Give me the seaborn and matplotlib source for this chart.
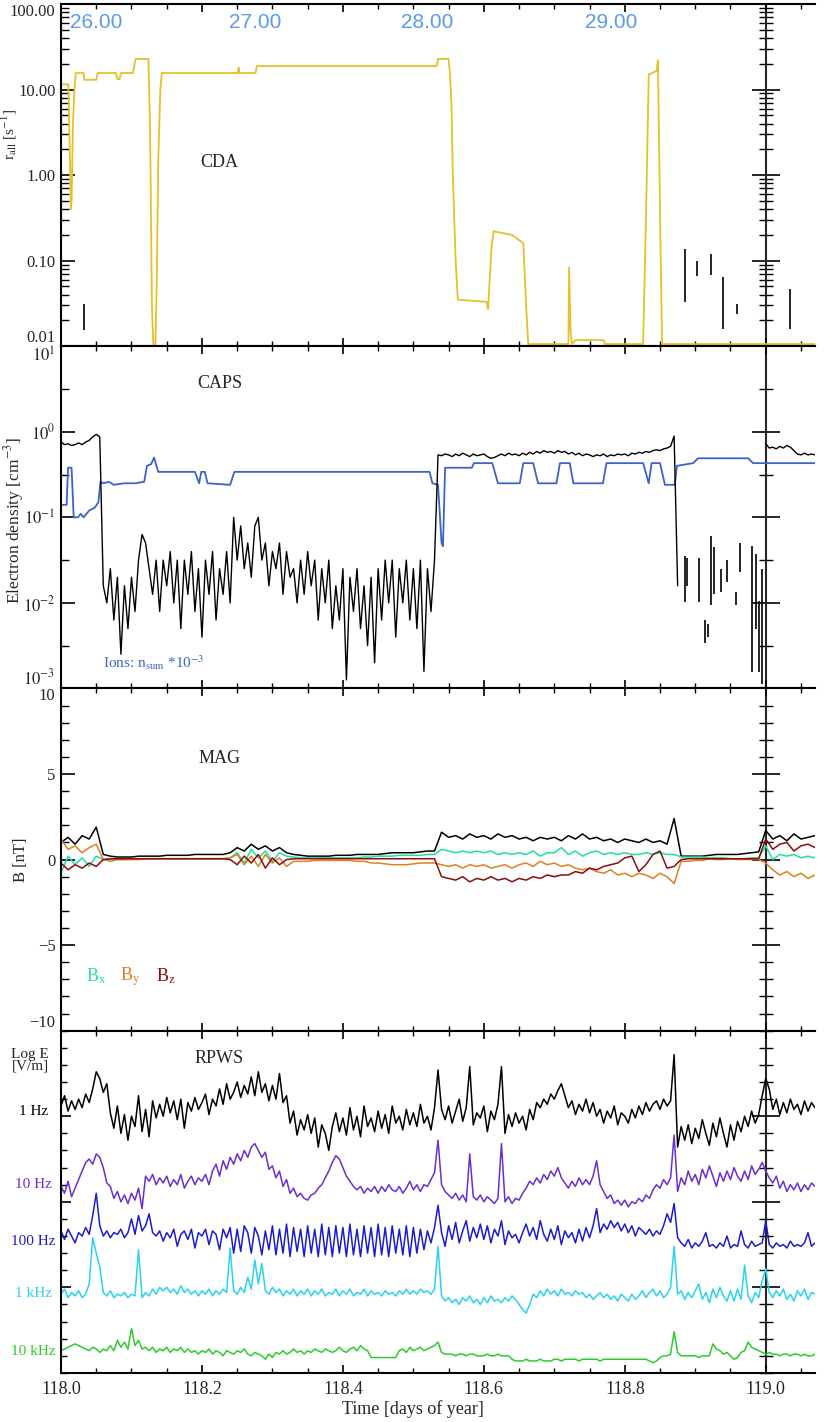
import matplotlib.pyplot as plt
import matplotlib.ticker as mticker
import numpy as np
import pandas as pd
import seaborn as sns

sns.set_style('ticks')
plt.rcParams['font.family'] = ['Liberation Serif', 'DejaVu Serif']
plt.rcParams['mathtext.fontset'] = 'stix'

# ---------------------------------------------------------------- data
T_START, T_END, T_MID = 118.0, 119.07, 119.0

# distance labels along the top of the CDA panel
dist_t = [118.05, 118.275, 118.52, 118.78]
dist_labels = ['26.00', '27.00', '28.00', '29.00']

# CDA total dust impact rate [1/s]
cda_t = [118.000, 118.0104, 118.012, 118.014, 118.015, 118.017, 118.019, 118.021,
         118.032, 118.033, 118.050, 118.052, 118.078, 118.080, 118.083, 118.085,
         118.102, 118.104, 118.106, 118.124, 118.126, 118.127, 118.128, 118.129,
         118.131, 118.134, 118.136, 118.138, 118.141, 118.143, 118.251, 118.252,
         118.253, 118.276, 118.278, 118.533, 118.535, 118.550, 118.552, 118.554,
         118.556, 118.560, 118.563, 118.604, 118.606, 118.611, 118.614, 118.640,
         118.656, 118.660, 118.663, 118.720, 118.721, 118.723, 118.725, 118.730,
         118.770, 118.772, 118.826, 118.830, 118.834, 118.845, 118.847, 118.851,
         118.853, 119.070]
cda_rate = [11.5, 11.5, 3.0, 0.4, 0.5, 4.0, 10.0, 15.6,
            15.6, 13.0, 13.0, 15.6, 15.6, 13.2, 13.2, 15.6,
            15.6, 19.0, 22.8, 22.8, 5.0, 1.3, 0.18, 0.03,
            0.0106, 0.0106, 0.065, 1.5, 10.0, 15.6, 15.6, 18.0,
            15.6, 15.6, 18.8, 18.8, 22.8, 22.8, 15.0, 7.0,
            1.0, 0.1, 0.035, 0.033, 0.027, 0.15, 0.22, 0.2,
            0.16, 0.03, 0.0106, 0.0106, 0.083, 0.015, 0.0106, 0.0118,
            0.0118, 0.0106, 0.0106, 0.3, 15.0, 16.5, 22.0, 0.1,
            0.0106, 0.0106]
# isolated single-detector counts (vertical bars)
cda_bar_t = [118.032, 118.885, 118.903, 118.923, 118.939, 118.959, 119.034]
cda_bar_lo = [0.0153, 0.033, 0.066, 0.068, 0.016, 0.024, 0.016]
cda_bar_hi = [0.031, 0.136, 0.10, 0.12, 0.064, 0.031, 0.047]

# CAPS ion density (already scaled by 1e-3) [cm^-3]
ion_t = [118.000, 118.008, 118.010, 118.015, 118.018, 118.024, 118.028, 118.032,
         118.040, 118.048, 118.053, 118.056, 118.060, 118.068, 118.075, 118.090,
         118.105, 118.118, 118.122, 118.128, 118.132, 118.138, 118.190, 118.196,
         118.199, 118.204, 118.208, 118.240, 118.246, 118.523, 118.527, 118.535,
         118.540, 118.542, 118.545, 118.583, 118.586, 118.612, 118.620, 118.651,
         118.656, 118.670, 118.677, 118.703, 118.708, 118.722, 118.727, 118.769,
         118.774, 118.826, 118.834, 118.838, 118.850, 118.857, 118.871, 118.874,
         118.897, 118.904, 118.975, 118.982, 118.996, 119.070]
ion_n = [0.14, 0.14, 0.38, 0.38, 0.10, 0.10, 0.11, 0.10,
         0.12, 0.13, 0.15, 0.26, 0.25, 0.26, 0.24, 0.25,
         0.25, 0.26, 0.40, 0.42, 0.50, 0.34, 0.34, 0.25,
         0.34, 0.34, 0.25, 0.24, 0.34, 0.34, 0.25, 0.24,
         0.05, 0.046, 0.38, 0.38, 0.43, 0.43, 0.25, 0.25,
         0.43, 0.43, 0.25, 0.25, 0.43, 0.43, 0.25, 0.25,
         0.43, 0.43, 0.25, 0.43, 0.43, 0.24, 0.24, 0.40,
         0.43, 0.49, 0.49, 0.43, 0.43, 0.43]

# CAPS electron density, log10 [cm^-3], 0.005 day samples from 118.000
ne_log10 = [
    -0.12, -0.15, -0.14, -0.16, -0.15, -0.13, -0.15, -0.12, -0.10, -0.06,  # 118.00
    -0.03, -0.06, -1.8, -2.0, -1.6, -2.2, -1.7, -2.6, -1.8, -2.3,          # 118.05
    -1.7, -2.1, -1.5, -1.2, -1.3, -1.6, -1.9, -1.5, -2.1, -1.5,            # 118.10
    -1.8, -1.4, -2.0, -1.5, -2.3, -1.5, -1.9, -1.4, -2.1, -1.6,            # 118.15
    -2.4, -1.5, -1.9, -1.4, -2.2, -1.6, -1.9, -1.4, -2.0, -1.0,            # 118.20
    -1.5, -1.1, -1.6, -1.3, -1.7, -1.1, -1.0, -1.5, -1.3, -1.8,            # 118.25
    -1.4, -1.6, -1.3, -1.9, -1.4, -1.7, -1.6, -2.0, -1.5, -1.9,            # 118.30
    -1.4, -1.8, -1.5, -2.2, -1.6, -2.0, -1.5, -2.3, -1.8, -2.2,            # 118.35
    -1.6, -2.9, -1.7, -2.1, -1.6, -2.3, -1.8, -2.5, -1.7, -2.7,            # 118.40
    -1.6, -2.2, -1.5, -2.0, -1.5, -2.4, -1.6, -2.0, -1.5, -2.2,            # 118.45
    -1.6, -2.3, -1.5, -2.8, -1.6, -2.1, -1.5, -0.27, -0.28, -0.26,         # 118.50
    -0.27, -0.29, -0.26, -0.28, -0.25, -0.27, -0.29, -0.26, -0.28, -0.27,  # 118.55
    -0.26, -0.29, -0.31, -0.30, -0.28, -0.26, -0.28, -0.25, -0.27, -0.26,  # 118.60
    -0.28, -0.25, -0.27, -0.24, -0.26, -0.23, -0.25, -0.22, -0.24, -0.23,  # 118.65
    -0.25, -0.22, -0.24, -0.23, -0.26, -0.24, -0.27, -0.25, -0.28, -0.26,  # 118.70
    -0.27, -0.29, -0.27, -0.28, -0.26, -0.29, -0.27, -0.28, -0.26, -0.27,  # 118.75
    -0.26, -0.28, -0.25, -0.26, -0.24, -0.25, -0.23, -0.24, -0.22, -0.21,  # 118.80
    -0.22, -0.20, -0.19, -0.17, -0.05, -1.8,                               # 118.85
]
# after the data gap, 0.005 day samples from 119.000
ne_tail_log10 = [-0.14, -0.19, -0.18, -0.20, -0.17, -0.19, -0.16, -0.18,
                 -0.22, -0.26, -0.27, -0.25, -0.27, -0.26, -0.27]
# sparse electron points in the gap (log10 ranges)
ne_bar_t = [118.885, 118.888, 118.906, 118.914, 118.918, 118.923, 118.927, 118.936,
            118.945, 118.958, 118.964, 118.981, 118.986, 118.991, 118.995]
ne_bar_lo = [-1.99, -1.80, -1.99, -2.47, -2.40, -2.03, -1.90, -1.87,
             -1.75, -2.03, -1.64, -2.81, -2.30, -2.81, -2.95]
ne_bar_hi = [-1.45, -1.47, -1.48, -2.20, -2.25, -1.22, -1.35, -1.60,
             -1.50, -1.87, -1.30, -1.34, -1.43, -1.98, -1.60]

# MAG field components [nT], 0.01 day samples from 118.00
mag_b = [
    1.0, 1.3, 0.9, 1.4, 1.2, 1.9, 0.3, 0.2, 0.15, 0.15,
    0.15, 0.2, 0.2, 0.2, 0.2, 0.25, 0.25, 0.25, 0.25, 0.3,
    0.3, 0.3, 0.3, 0.3, 0.4, 0.7, 0.5, 0.9, 0.6, 0.8,
    0.5, 0.7, 0.4, 0.3, 0.25, 0.2, 0.2, 0.2, 0.2, 0.25,
    0.25, 0.25, 0.3, 0.3, 0.3, 0.3, 0.35, 0.4, 0.4, 0.4,
    0.4, 0.45, 0.5, 0.5, 1.6, 1.3, 1.4, 1.2, 1.5, 1.3,
    1.4, 1.2, 1.5, 1.3, 1.4, 1.2, 1.3, 1.1, 1.3, 1.2,
    1.3, 1.1, 1.4, 1.2, 1.5, 1.2, 1.3, 1.1, 1.2, 1.0,
    1.2, 1.1, 1.0, 1.2, 1.0, 1.1, 0.9, 2.4, 0.2, 0.2,
    0.2, 0.2, 0.25, 0.3, 0.3, 0.3, 0.3, 0.35, 0.4, 0.45,
    1.7, 1.2, 1.4, 1.1, 1.5, 1.2, 1.3, 1.4,
]
mag_bx = [
    -0.8, 0.2, -0.3, 0.1, -0.4, 0.2, 0.0, 0.0, 0.0, 0.0,
    0.05, 0.05, 0.05, 0.05, 0.05, 0.05, 0.05, 0.05, 0.05, 0.05,
    0.05, 0.05, 0.05, 0.05, 0.1, 0.4, -0.2, 0.6, 0.1, 0.5,
    -0.1, 0.4, 0.2, 0.15, 0.1, 0.1, 0.1, 0.1, 0.1, 0.1,
    0.1, 0.1, 0.1, 0.15, 0.15, 0.2, 0.2, 0.2, 0.25, 0.25,
    0.25, 0.25, 0.3, 0.3, 0.6, 0.5, 0.4, 0.5, 0.4, 0.5,
    0.4, 0.5, 0.3, 0.4, 0.3, 0.4, 0.3, 0.5, 0.2, 0.4,
    0.4, 0.7, 0.3, 0.5, 0.2, 0.4, 0.5, 0.3, 0.4, 0.3,
    0.4, 0.3, 0.3, 0.4, 0.3, 0.4, 0.3, 0.3, 0.15, 0.15,
    0.15, 0.15, 0.1, 0.1, 0.1, 0.05, 0.05, 0.05, 0.1, 0.1,
    0.8, 0.0, 0.3, 0.2, 0.3, 0.1, 0.2, 0.1,
]
mag_by = [
    1.2, 0.6, 0.8, 0.4, 0.7, 0.9, 0.0, -0.1, 0.0, 0.0,
    0.0, 0.0, 0.05, 0.05, 0.05, 0.05, 0.05, 0.05, 0.05, 0.05,
    0.05, 0.05, 0.05, 0.05, 0.1, 0.3, -0.3, 0.2, -0.4, 0.3,
    -0.2, 0.1, -0.4, -0.1, -0.1, -0.1, -0.05, -0.05, -0.05, -0.05,
    -0.05, -0.05, -0.1, -0.1, -0.2, -0.2, -0.25, -0.3, -0.3, -0.3,
    -0.25, -0.2, -0.2, -0.2, -0.3, -0.4, -0.3, -0.5, -0.3, -0.4,
    -0.3, -0.5, -0.4, -0.3, -0.5, -0.3, -0.2, -0.4, -0.1, -0.3,
    -0.2, -0.4, -0.3, -0.5, -0.6, -0.5, -0.7, -0.8, -0.6, -0.9,
    -0.8, -1.0, -0.8, -0.9, -1.1, -0.8, -1.0, -1.4, -0.1, -0.1,
    -0.05, -0.05, 0.05, 0.0, 0.0, 0.05, 0.0, 0.0, 0.0, 0.0,
    -0.2, -0.6, -0.9, -0.7, -1.0, -0.8, -1.1, -0.9,
]
mag_bz = [
    -0.2, -0.6, -0.3, -0.5, -0.2, -0.4, 0.0, 0.05, 0.05, 0.05,
    0.05, 0.05, 0.05, 0.05, 0.05, 0.05, 0.05, 0.05, 0.05, 0.05,
    0.05, 0.05, 0.05, 0.05, 0.0, -0.3, 0.2, -0.2, 0.3, -0.5,
    0.1, -0.3, 0.0, 0.05, 0.05, 0.05, 0.05, 0.05, 0.05, 0.05,
    0.05, 0.05, 0.05, 0.05, 0.05, 0.05, 0.05, 0.05, 0.05, 0.05,
    0.05, 0.05, 0.05, 0.05, -1.0, -1.1, -1.2, -1.0, -1.3, -1.1,
    -1.2, -1.0, -1.2, -1.1, -1.3, -1.1, -1.2, -1.0, -1.1, -0.9,
    -1.0, -0.9, -0.9, -0.7, -0.8, -0.5, -0.6, -0.4, -0.3, -0.2,
    0.1, 0.2, -0.7, -0.3, 0.3, 0.5, -0.5, -0.4, 0.0, 0.05,
    0.05, 0.05, 0.05, 0.05, 0.05, 0.05, 0.05, 0.05, 0.05, 0.05,
    1.2, 0.6, 0.9, 1.0, 0.5, 0.8, 0.9, 0.7,
]

# RPWS log E, stacked (panel units), 0.005 day samples from 118.000
rpws_1hz = [
    15.6, 16.2, 15.3, 15.9, 15.4, 16.0, 15.5, 16.3, 15.8, 16.6,
    17.6, 17.2, 16.4, 16.9, 15.2, 14.3, 15.6, 14.0, 15.1, 13.6,
    15.0, 14.4, 16.2, 14.1, 15.4, 13.8, 15.9, 14.9, 15.7, 15.0,
    16.1, 15.2, 15.9, 14.8, 16.0, 14.3, 15.8, 15.3, 16.1, 15.4,
    15.8, 16.3, 15.1, 16.0, 15.6, 16.6, 15.7, 16.9, 16.0, 16.4,
    17.0, 16.1, 16.8, 16.3, 17.3, 16.2, 17.6, 16.4, 16.9, 15.9,
    16.8, 16.0, 17.5, 15.8, 16.2, 14.6, 15.3, 13.9, 14.8, 14.2,
    15.1, 14.0, 14.9, 13.2, 14.5, 14.0, 13.0, 14.4, 15.2, 14.1,
    14.9, 13.9, 15.5, 14.2, 15.0, 13.8, 15.6, 14.4, 14.9, 14.1,
    15.3, 14.3, 15.1, 14.0, 15.6, 14.6, 15.0, 14.2, 15.4, 14.5,
    15.2, 14.4, 15.7, 14.6, 15.0, 14.2, 15.5, 17.7, 15.4, 14.8,
    15.6, 14.6, 15.3, 16.0, 14.7, 15.5, 17.9, 14.5, 15.2, 14.9,
    15.6, 14.1, 15.3, 14.8, 15.7, 17.9, 14.0, 15.1, 14.4, 15.2,
    14.6, 15.0, 14.2, 15.4, 14.8, 15.8, 15.5, 16.0, 15.7, 16.3,
    16.0, 16.5, 16.9, 16.2, 15.5, 15.9, 15.1, 15.7, 15.3, 16.0,
    15.2, 15.8, 15.0, 15.4, 14.6, 15.3, 14.9, 15.6, 14.5, 15.2,
    15.0, 14.6, 15.4, 14.9, 15.6, 15.1, 15.8, 15.3, 15.7, 15.9,
    15.4, 16.0, 15.6, 15.9, 18.6, 13.2, 14.4, 13.6, 14.5, 13.4,
    14.3, 13.7, 14.8, 14.0, 13.3, 14.6, 13.8, 14.9, 14.0, 13.2,
    14.5, 13.6, 14.7, 14.1, 15.0, 14.4, 15.3, 14.6, 15.1, 16.2,
    17.2, 16.6, 15.4, 16.0, 15.1, 15.8, 15.2, 16.0, 15.4, 15.7,
    15.1, 15.9, 15.3, 15.8, 15.5,
]
rpws_10hz = [
    10.9, 10.5, 11.2, 10.3, 10.8, 11.3, 11.8, 12.3, 12.5, 12.2,
    12.8, 12.6, 12.0, 11.1, 10.9, 10.2, 10.6, 10.0, 10.4, 9.9,
    10.5, 10.1, 10.8, 9.6, 11.5, 11.2, 11.6, 11.0, 11.4, 11.1,
    11.5, 10.9, 11.3, 11.0, 11.6, 10.8, 11.2, 11.5, 11.0, 11.4,
    11.2, 11.6, 11.0, 11.8, 12.2, 11.5, 12.4, 11.9, 12.6, 12.2,
    12.8, 12.4, 13.0, 12.6, 13.2, 13.4, 13.0, 12.6, 12.9, 11.9,
    12.1, 11.4, 11.8, 10.9, 11.3, 10.5, 10.8, 10.3, 10.5, 10.2,
    10.1, 10.4, 10.5, 10.8, 11.0, 11.4, 11.8, 12.3, 12.7, 12.5,
    12.0, 11.5, 11.2, 10.9, 10.7, 10.9, 10.5, 10.8, 10.6, 10.9,
    10.5, 10.9, 10.6, 11.0, 10.7, 10.6, 10.9, 10.5, 10.8, 11.2,
    10.7, 11.0, 10.6, 11.0, 10.9, 11.3, 11.7, 13.6, 11.0, 10.6,
    10.4, 10.2, 10.5, 10.1, 10.4, 10.0, 12.8, 10.3, 10.1, 10.4,
    10.0, 10.3, 10.1, 9.9, 10.2, 13.4, 10.0, 10.3, 9.9, 10.2,
    10.1, 10.5, 10.8, 11.2, 11.0, 11.4, 11.1, 11.6, 11.3, 11.8,
    11.5, 12.0, 11.4, 11.1, 10.8, 11.2, 10.9, 11.4, 11.0, 11.3,
    11.0, 11.5, 12.4, 11.0, 10.6, 10.2, 10.4, 9.9, 10.1, 9.8,
    10.1, 9.7, 10.0, 9.9, 10.2, 10.0, 10.4, 10.2, 10.7, 11.0,
    10.8, 11.3, 11.0, 11.4, 13.9, 10.6, 11.4, 11.0, 11.8, 11.2,
    11.6, 11.0, 11.9, 11.4, 12.1, 11.5, 10.9, 11.7, 11.2, 11.8,
    11.3, 12.0, 11.5, 11.2, 11.8, 11.3, 12.1, 11.6, 11.9, 12.3,
    11.8, 11.4, 11.1, 11.5, 10.8, 11.2, 10.6, 11.0, 10.7, 11.1,
    10.6, 11.0, 10.7, 11.1, 10.9,
]
rpws_100hz = [
    8.3, 7.8, 8.4, 8.0, 7.6, 8.2, 8.0, 8.5, 8.1, 9.2,
    10.5, 8.6, 8.0, 8.3, 7.9, 8.2, 8.1, 8.4, 7.9, 8.2,
    9.0, 8.1, 9.2, 8.3, 8.6, 9.3, 8.2, 8.0, 8.3, 7.7,
    8.2, 7.9, 8.4, 7.4, 8.1, 8.3, 7.8, 8.4, 7.3, 8.2,
    8.0, 8.4, 7.5, 8.3, 8.1, 7.2, 8.4, 7.9, 8.5, 7.0,
    8.4, 7.1, 8.6, 8.2, 7.0, 8.5, 8.0, 6.9, 8.3, 7.2,
    8.6, 6.9, 8.4, 7.0, 8.7, 6.8, 8.5, 7.1, 8.4, 6.8,
    8.6, 7.0, 8.4, 6.8, 8.7, 6.9, 8.5, 6.8, 8.6, 7.0,
    8.5, 6.8, 8.7, 6.9, 8.4, 6.8, 8.6, 7.0, 8.5, 6.8,
    8.7, 6.9, 8.5, 6.8, 8.6, 7.0, 8.4, 6.9, 8.6, 6.8,
    8.5, 7.0, 8.4, 7.2, 8.3, 7.6, 8.5, 9.8, 8.2, 7.4,
    8.6, 7.8, 8.8, 7.6, 8.3, 8.9, 7.7, 8.5, 7.9, 8.7,
    7.8, 8.6, 7.6, 8.4, 8.0, 8.9, 7.5, 8.3, 7.9, 8.1,
    7.6, 8.2, 8.7, 8.0, 8.5, 7.8, 8.9, 8.1, 7.7, 8.4,
    7.8, 8.6, 7.5, 8.3, 7.9, 8.2, 7.6, 8.4, 7.7, 8.5,
    7.9, 8.6, 9.6, 8.2, 8.7, 8.4, 8.9, 8.5, 8.8, 8.3,
    8.7, 8.2, 8.6, 8.0, 8.5, 8.3, 8.1, 8.4, 8.0, 8.3,
    8.1, 8.6, 9.3, 8.8, 9.9, 7.9, 7.6, 7.4, 7.8, 7.3,
    7.6, 7.4, 7.7, 8.2, 7.4, 7.5, 7.3, 7.6, 7.4, 8.0,
    7.3, 7.5, 7.4, 8.3, 7.5, 7.3, 7.7, 7.4, 7.5, 7.6,
    8.9, 7.5, 7.3, 7.6, 7.4, 7.5, 7.3, 7.7, 7.4, 7.5,
    7.4, 7.6, 8.2, 7.4, 7.6,
]
rpws_1khz = [
    4.6, 4.9, 4.4, 4.7, 4.5, 4.8, 4.4, 4.6, 5.2, 7.9,
    7.0, 6.2, 4.7, 4.5, 4.8, 4.4, 4.6, 4.5, 4.7, 4.4,
    4.6, 4.5, 7.2, 4.4, 4.7, 4.5, 4.9, 4.6, 5.0, 4.8,
    5.0, 4.7, 4.9, 4.6, 5.1, 4.7, 4.9, 4.6, 4.8, 4.5,
    4.8, 4.6, 4.9, 4.5, 4.8, 4.6, 4.9, 4.7, 7.3, 4.8,
    4.6, 5.0, 4.7, 5.6, 4.9, 6.6, 5.2, 6.4, 4.8, 4.6,
    5.0, 4.7, 4.9, 4.5, 4.8, 4.6, 4.9, 4.5, 4.8, 4.6,
    4.9, 4.5, 4.8, 4.6, 4.9, 4.5, 4.7, 4.6, 4.9, 4.5,
    4.8, 4.6, 4.9, 4.5, 4.7, 4.6, 4.9, 4.5, 4.8, 4.6,
    4.7, 4.5, 4.8, 4.6, 4.7, 4.5, 4.8, 4.6, 4.9, 4.6,
    4.8, 4.6, 4.9, 4.7, 4.8, 4.6, 4.9, 7.4, 4.5, 4.2,
    4.4, 4.1, 4.3, 4.0, 4.4, 4.2, 4.5, 4.1, 4.3, 4.0,
    4.4, 4.1, 4.5, 4.2, 4.3, 4.1, 4.4, 4.2, 4.5, 4.3,
    4.0, 3.7, 3.5, 4.0, 4.6, 4.4, 4.8, 4.5, 4.9, 4.6,
    4.8, 4.5, 4.9, 4.6, 4.7, 4.5, 4.8, 4.6, 4.7, 4.4,
    4.6, 4.3, 4.5, 4.7, 4.4, 4.6, 4.3, 4.5, 4.2, 4.6,
    4.4, 4.2, 4.6, 4.3, 4.5, 4.8, 4.4, 4.7, 4.9, 4.5,
    4.8, 4.4, 4.6, 5.0, 7.4, 4.6, 4.8, 4.3, 4.7, 4.4,
    4.8, 5.2, 4.3, 4.7, 4.1, 4.9, 4.4, 5.0, 4.5, 4.2,
    4.8, 4.2, 4.9, 4.3, 6.3, 4.5, 4.1, 4.7, 4.4, 5.4,
    6.1, 4.7, 4.4, 4.8, 4.5, 4.9, 4.3, 4.6, 4.2, 4.8,
    4.5, 4.9, 4.3, 4.7, 4.6,
]
rpws_10khz = [
    1.3, 1.4, 1.5, 1.6, 1.7, 1.6, 1.5, 1.4, 1.3, 1.5,
    1.4, 1.2, 1.4, 1.3, 1.6, 1.3, 1.9, 1.5, 1.8, 1.4,
    2.6, 1.6, 1.9, 1.4, 1.5, 1.3, 1.5, 1.2, 1.4, 1.3,
    1.5, 1.2, 1.4, 1.3, 1.5, 1.2, 1.4, 1.2, 1.3, 1.1,
    1.3, 1.2, 1.4, 1.1, 1.3, 1.2, 1.0, 1.3, 1.2, 1.1,
    1.3, 1.2, 1.4, 1.1, 1.0, 1.2, 1.1, 1.0, 0.8, 1.1,
    0.9, 1.2, 1.1, 1.3, 1.1, 1.2, 1.4, 1.2, 1.3, 1.1,
    1.3, 1.2, 1.4, 1.3, 1.2, 1.4, 1.3, 1.2, 1.3, 1.5,
    1.3, 1.2, 1.4, 1.5, 1.3, 1.6, 1.4, 1.3, 0.9, 0.9,
    0.9, 0.9, 0.9, 0.9, 0.9, 0.9, 1.3, 1.4, 1.2, 1.5,
    1.3, 1.4, 1.5, 1.3, 1.4, 1.5, 1.6, 1.8, 1.2, 1.1,
    1.1, 1.1, 1.0, 1.1, 1.1, 1.0, 1.1, 1.1, 1.0, 1.0,
    1.0, 1.1, 1.0, 1.0, 1.1, 1.0, 1.0, 1.0, 0.8, 0.7,
    0.7, 0.7, 0.8, 0.7, 0.7, 0.7, 0.8, 0.7, 0.7, 0.7,
    0.8, 0.8, 0.7, 0.8, 0.8, 0.8, 0.8, 0.7, 0.8, 0.8,
    0.8, 0.8, 0.8, 0.7, 0.8, 0.8, 0.8, 0.8, 0.8, 0.8,
    0.8, 0.8, 0.8, 0.8, 0.8, 0.8, 0.8, 0.7, 0.6, 0.7,
    0.9, 1.0, 1.0, 1.1, 2.4, 1.2, 1.0, 1.0, 1.0, 1.0,
    1.0, 0.9, 1.0, 1.0, 1.0, 1.7, 1.4, 1.3, 1.1, 1.2,
    1.0, 0.8, 0.9, 1.2, 1.3, 1.8, 1.5, 1.4, 1.3, 1.2,
    1.1, 1.2, 1.1, 1.1, 1.0, 1.1, 1.1, 1.0, 1.1, 1.1,
    1.0, 1.1, 1.0, 1.0, 1.1,
]
rpws_labels = ['1 Hz', '10 Hz', '100 Hz', '1 kHz', '10 kHz']
rpws_label_y = [15.3, 11.0, 7.66, 4.62, 1.23]

# ---------------------------------------------------------------- helpers
C_CDA = '#e4c02c'
C_ION = '#3d62c8'
C_BX, C_BY, C_BZ = '#22e09c', '#e0801e', '#8a0c0c'
RPWS_COLORS = ['black', '#6a2fcf', '#1c1ccc', '#2ad2ee', '#2ecb2e']


def sampled(values, t0, step):
    # sample times of a uniformly sampled series
    return t0 + step * np.arange(len(values))


def trace(ax, t, v, color, lw=1.0):
    df = pd.DataFrame({'t': t, 'v': v})
    sns.lineplot(data=df, x='t', y='v', color=color, lw=lw, ax=ax,
                 estimator=None, sort=False, legend=False)


def style_axis(ax):
    for side in ['left', 'top', 'bottom']:
        ax.spines[side].set_linewidth(1.5)
        ax.spines[side].set_color('black')
    ax.spines['right'].set_visible(False)
    ax.tick_params(axis='both', which='both', direction='in', top=True,
                   right=False, color='black', labelsize=12)
    ax.tick_params(axis='y', which='major', length=10, width=1.2, pad=4)
    ax.tick_params(axis='y', which='minor', length=5.5, width=1.0)
    ax.tick_params(axis='x', which='major', length=6, width=1.2, pad=6)
    ax.tick_params(axis='x', which='minor', length=3.5, width=1.0)
    ax.set_xlabel('')


def mid_axis(ax, major, minor_locator):
    # the vertical line at day 119.0 carries its own tick marks
    frac = (T_MID - T_START) / (T_END - T_START)
    sec = ax.secondary_yaxis(frac)
    for sp in sec.spines.values():
        sp.set_linewidth(1.5)
    sec.set_yticks(major)
    sec.yaxis.set_minor_locator(minor_locator)
    sec.tick_params(which='both', direction='inout', labelright=False,
                    labelleft=False, color='black')
    sec.tick_params(which='major', length=20, width=1.2)
    sec.tick_params(which='minor', length=10, width=1.0)


def edge_labels(ax):
    ticks = ax.yaxis.get_major_ticks()
    ticks[0].label1.set_va('bottom')
    ticks[-1].label1.set_va('top')


# ---------------------------------------------------------------- figure
fig, axes = plt.subplots(4, 1, figsize=(8.3, 14.22), dpi=100, sharex=True)
fig.subplots_adjust(left=0.0735, right=0.982, top=0.9972, bottom=0.0345,
                    hspace=0)
ax_cda, ax_caps, ax_mag, ax_rpws = axes

# --- CDA
ax_cda.set_yscale('log')
trace(ax_cda, cda_t, cda_rate, C_CDA, lw=1.3)
ax_cda.vlines(cda_bar_t, cda_bar_lo, cda_bar_hi, colors='black', lw=1.2)
ax_cda.set_ylim(0.01, 100)
ax_cda.set_yticks([0.01, 0.1, 1, 10, 100],
                  ['0.01', '0.10', '1.00', '10.00', '100.00'])
ax_cda.yaxis.set_minor_locator(mticker.LogLocator(subs=np.arange(2, 10)))
ax_cda.yaxis.set_minor_formatter(mticker.NullFormatter())
ax_cda.set_ylabel(r'r$_{\rm all}$ [s$^{-1}$]', fontsize=11)
ax_cda.yaxis.set_label_coords(-0.056, 0.62)
ax_cda.text(118.225, 1.4, 'CDA', fontsize=13, ha='center', va='center')
for x, lab in zip(dist_t, dist_labels):
    ax_cda.text(x, 60, lab, color='#5c9ae6', fontsize=15, ha='center',
                va='center', family=['Liberation Sans', 'DejaVu Sans'])
style_axis(ax_cda)
edge_labels(ax_cda)
mid_axis(ax_cda, [0.01, 0.1, 1, 10, 100],
         mticker.LogLocator(subs=np.arange(2, 10)))

# --- CAPS
ax_caps.set_yscale('log')
ne = 10 ** np.array(ne_log10)
ne_tail = 10 ** np.array(ne_tail_log10)
trace(ax_caps, ion_t, ion_n, C_ION, lw=1.3)
trace(ax_caps, sampled(ne, T_START, 0.005), ne, 'black', lw=1.0)
trace(ax_caps, sampled(ne_tail, T_MID, 0.005), ne_tail, 'black', lw=1.0)
ax_caps.vlines(ne_bar_t, 10 ** np.array(ne_bar_lo), 10 ** np.array(ne_bar_hi),
               colors='black', lw=1.2)
ax_caps.set_ylim(1e-3, 1e1)
caps_major = [1e-3, 1e-2, 1e-1, 1e0, 1e1]
caps_minor = [10 ** (k + 0.5) for k in range(-3, 1)]
ax_caps.set_yticks(caps_major,
                   [r'$10^{-3}$', r'$10^{-2}$', r'$10^{-1}$', r'$10^{0}$',
                    r'$10^{1}$'])
ax_caps.yaxis.set_minor_locator(mticker.FixedLocator(caps_minor))
ax_caps.yaxis.set_minor_formatter(mticker.NullFormatter())
ax_caps.set_ylabel(r'Electron density [cm$^{-3}$]', fontsize=12.5)
ax_caps.yaxis.set_label_coords(-0.047, 0.49)
ax_caps.text(118.225, 3.7, 'CAPS', fontsize=13, ha='center', va='center')
ax_caps.text(118.06, 2.0e-3, r'Ions: n$_{\rm sum}$ *10$^{-3}$', color=C_ION,
             fontsize=11, ha='left', va='center')
style_axis(ax_caps)
edge_labels(ax_caps)
mid_axis(ax_caps, caps_major, mticker.FixedLocator(caps_minor))

# --- MAG
t_mag = sampled(mag_b, T_START, 0.01)
trace(ax_mag, t_mag, mag_b, 'black', lw=1.1)
trace(ax_mag, t_mag, mag_bx, C_BX, lw=1.1)
trace(ax_mag, t_mag, mag_by, C_BY, lw=1.1)
trace(ax_mag, t_mag, mag_bz, C_BZ, lw=1.1)
ax_mag.set_ylim(-10, 10)
ax_mag.set_yticks([-10, -5, 0, 5, 10], ['\u221210', '\u22125', '0', '5', '10'])
ax_mag.yaxis.set_minor_locator(mticker.MultipleLocator(1))
ax_mag.set_ylabel('B [nT]', fontsize=12)
ax_mag.yaxis.set_label_coords(-0.042, 0.5)
ax_mag.text(118.225, 5.9, 'MAG', fontsize=13, ha='center', va='center')
for x, lab, col in zip([118.05, 118.098, 118.149],
                       [r'B$_{\rm x}$', r'B$_{\rm y}$', r'B$_{\rm z}$'],
                       [C_BX, C_BY, C_BZ]):
    ax_mag.text(x, -6.85, lab, color=col, fontsize=13, ha='center',
                va='center')
style_axis(ax_mag)
edge_labels(ax_mag)
mid_axis(ax_mag, [-10, -5, 0, 5, 10], mticker.MultipleLocator(1))

# --- RPWS
for series, col in zip([rpws_1hz, rpws_10hz, rpws_100hz, rpws_1khz,
                        rpws_10khz], RPWS_COLORS):
    trace(ax_rpws, sampled(series, T_START, 0.005), series, col, lw=1.1)
ax_rpws.set_ylim(0, 20)
ax_rpws.set_yticks([5, 10, 15], ['', '', ''])
ax_rpws.yaxis.set_minor_locator(mticker.MultipleLocator(1))
ax_rpws.set_ylabel('')
ax_rpws.text(118.225, 18.4, 'RPWS', fontsize=13, ha='center', va='center')
ytrans = ax_rpws.get_yaxis_transform()
for lab, y, col in zip(rpws_labels, rpws_label_y, RPWS_COLORS):
    ax_rpws.text(-0.037, y, lab, color=col, fontsize=11, ha='center',
                 va='center', transform=ytrans)
ax_rpws.text(-0.041, 18.25, 'Log E\n[V/m]', fontsize=11, ha='center',
             va='center', linespacing=0.85, transform=ytrans)
style_axis(ax_rpws)
ax_rpws.tick_params(axis='y', which='major', length=7)
ax_rpws.tick_params(axis='y', which='minor', length=4.5)
mid_axis(ax_rpws, [5, 10, 15], mticker.MultipleLocator(1))

ax_rpws.set_xlim(T_START, T_END)
ax_rpws.xaxis.set_major_locator(mticker.MultipleLocator(0.2))
ax_rpws.xaxis.set_minor_locator(mticker.MultipleLocator(0.05))
ax_rpws.xaxis.set_major_formatter(mticker.FormatStrFormatter('%.1f'))
ax_rpws.tick_params(axis='x', labelsize=13)
ax_rpws.set_xlabel('Time [days of year]', fontsize=13)
ax_rpws.xaxis.set_label_coords(0.467, -0.08)

fig.savefig('out.png', dpi=100)
